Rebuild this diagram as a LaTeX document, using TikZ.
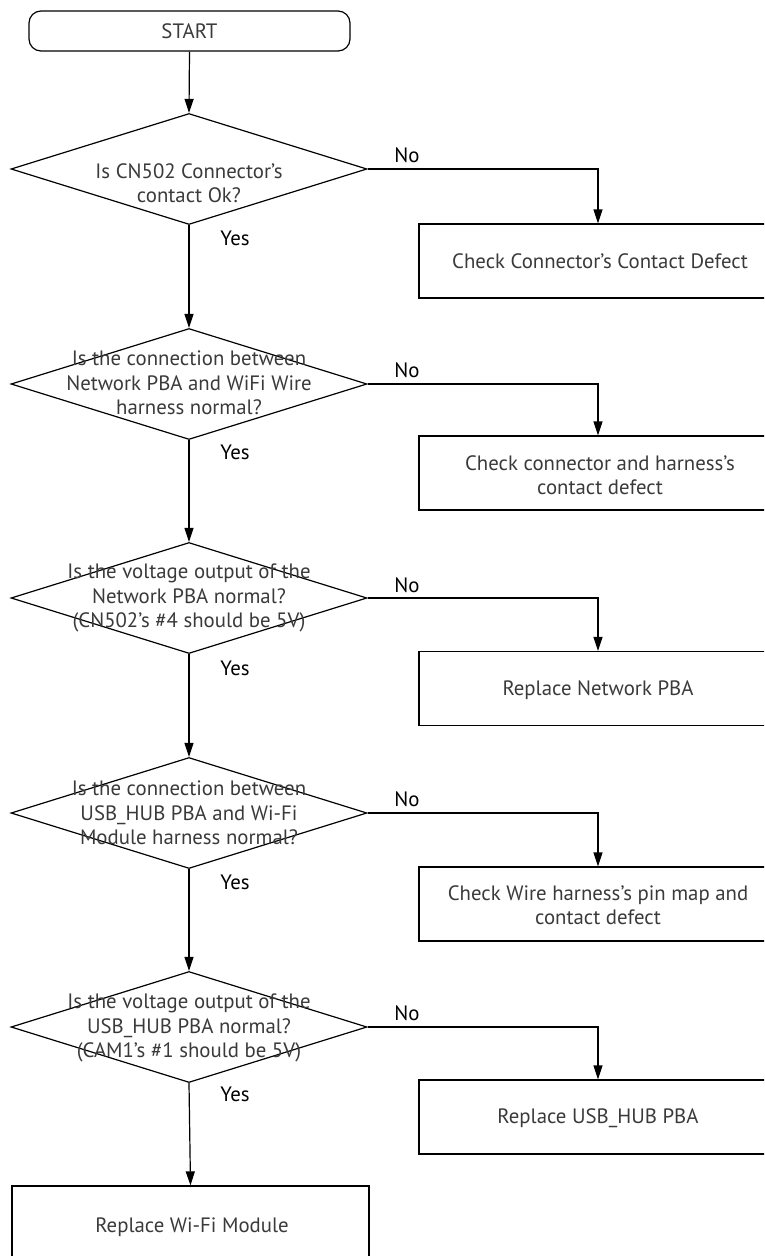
\documentclass[tikz,border=0pt]{standalone}
\usepackage{fontspec}
\setmainfont{PT Sans}
\usetikzlibrary{shapes.geometric,arrows.meta}
\definecolor{txtgray}{HTML}{3A3A3A}
\begin{document}
\begin{tikzpicture}[x=1pt,y=-1pt, line width=1.2pt,
  dec/.style={diamond, draw, minimum width=356pt, minimum height=111pt, inner sep=0pt},
  box/.style={draw, rectangle, minimum width=358pt, minimum height=74pt, inner sep=0pt},
  txt/.style={text=txtgray, font=\fontsize{20.8}{24.5}\selectfont, align=center, inner sep=0pt},
  lbl/.style={text=black, font=\fontsize{20.8}{24}\selectfont, inner sep=0pt},
  arr/.style={-{Triangle[length=14pt,width=9pt]}}]
\useasboundingbox (0,0) rectangle (764,1256);
\clip (0,0) rectangle (764,1256);
% start
\node[draw, rectangle, rounded corners=12pt, minimum width=321pt, minimum height=40pt, inner sep=0pt] (start) at (189.5,31) {};
\node[txt] (starttxt) at (189.5,31) {START};
% decisions
\node[dec] (d1) at (189,169) {};
\node[dec] (d2) at (189,384) {};
\node[dec] (d3) at (189,598) {};
\node[dec] (d4) at (189,813) {};
\node[dec] (d5) at (189,1027) {};
\node[txt] (t1) at (189,183) {Is CN502 Connector’s\\contact Ok?};
\node[txt] (t2) at (189,383) {Is the connection between\\Network PBA and WiFi Wire\\harness normal?};
\node[txt] (t3) at (189,598) {Is the voltage output of the\\Network PBA normal?\\(CN502’s \#4 should be 5V)};
\node[txt] (t4) at (189,813) {Is the connection between\\USB\_HUB PBA and Wi-Fi\\Module harness normal?};
\node[txt] (t5) at (189,1028) {Is the voltage output of the\\USB\_HUB PBA normal?\\(CAM1’s \#1 should be 5V)};
% boxes
\node[box] (b1) at (598,261) {};
\node[box] (b2) at (598,473) {};
\node[box] (b3) at (598,688.5) {};
\node[box] (b4) at (598,904) {};
\node[box] (b5) at (598,1117) {};
\node[box, minimum width=357pt, minimum height=82pt] (b6) at (190.5,1227) {};
\node[txt] (bt1) at (600,261) {Check Connector’s Contact Defect};
\node[txt] (bt2) at (600,475) {Check connector and harness’s\\contact defect};
\node[txt] (bt3) at (598,690) {Replace Network PBA};
\node[txt] (bt4) at (598,905) {Check Wire harness’s pin map and\\contact defect};
\node[txt] (bt5) at (598,1118) {Replace USB\_HUB PBA};
\node[txt] (bt6) at (192,1227) {Replace Wi-Fi Module};
% connectors
\draw[arr] (start.south) -- (d1.north);
\draw[arr] (d1.south) -- (d2.north);
\draw[arr] (d2.south) -- (d3.north);
\draw[arr] (d3.south) -- (d4.north);
\draw[arr] (d4.south) -- (d5.north);
\draw[arr] (d5.south) -- (b6.north);
\draw[arr] (d1.east) -| (b1.north);
\draw[arr] (d2.east) -| (b2.north);
\draw[arr] (d3.east) -| (b3.north);
\draw[arr] (d4.east) -| (b4.north);
\draw[arr] (d5.east) -| (b5.north);
% labels
\node[lbl] (y1) at (235,238) {Yes};
\node[lbl] (y2) at (235,452) {Yes};
\node[lbl] (y3) at (235,668) {Yes};
\node[lbl] (y4) at (235,882) {Yes};
\node[lbl] (y5) at (235,1094) {Yes};
\node[lbl] (n1) at (407,155) {No};
\node[lbl] (n2) at (407,370) {No};
\node[lbl] (n3) at (407,585) {No};
\node[lbl] (n4) at (407,799) {No};
\node[lbl] (n5) at (407,1013) {No};
\end{tikzpicture}
\end{document}
